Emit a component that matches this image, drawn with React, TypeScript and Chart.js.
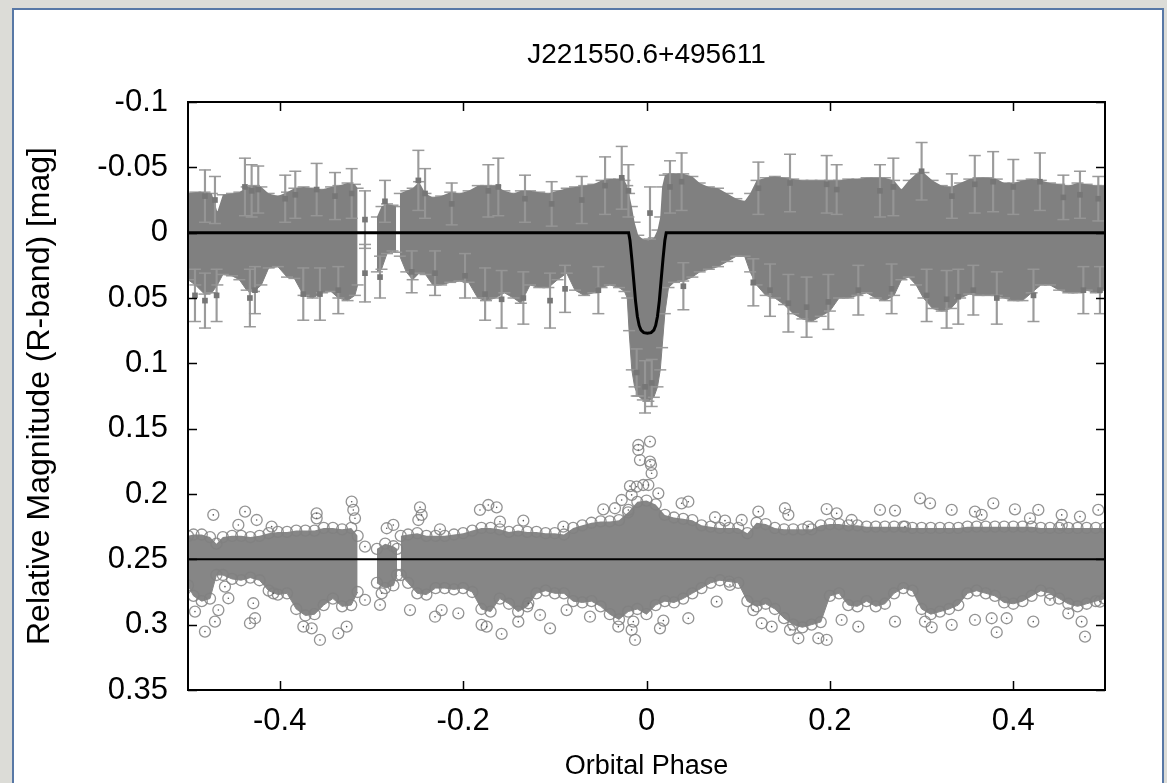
import React, { useEffect, useRef } from 'react';
import { Chart, registerables } from 'chart.js';

Chart.register(...registerables);

const TITLE = 'J221550.6+495611';
const X_TITLE = 'Orbital Phase';
const Y_TITLE = 'Relative Magnitude (R-band) [mag]';

const xTickValues = [-0.4, -0.2, 0, 0.2, 0.4];
const xTickLabels = ['-0.4', '-0.2', '0', '0.2', '0.4'];
const yTickValues = [-0.1, -0.05, 0, 0.05, 0.1, 0.15, 0.2, 0.25, 0.3, 0.35];
const yTickLabels = ['-0.1', '-0.05', '0', '0.05', '0.1', '0.15', '0.2', '0.25', '0.3', '0.35'];

// Upper light curve (with error bars): dense-core envelope
const topPhase = [
  -0.5, -0.492, -0.482, -0.474, -0.468, -0.462, -0.452, -0.444, -0.436, -0.428, -0.42, -0.412, -0.402,
  -0.392, -0.384, -0.374, -0.364, -0.354, -0.344, -0.336, -0.326, -0.318, -0.315, -0.305,
  -0.294, -0.289, -0.283, -0.277, -0.273, -0.271,
  -0.269, -0.262, -0.255, -0.248, -0.241, -0.233, -0.224, -0.214, -0.204, -0.194, -0.184, -0.175,
  -0.165, -0.155, -0.145, -0.137, -0.127, -0.117, -0.107, -0.097, -0.087, -0.078, -0.068, -0.058,
  -0.049, -0.04, -0.03, -0.024, -0.021, -0.019, -0.016, -0.013, -0.009, -0.004, 0.002, 0.008, 0.012,
  0.015, 0.017, 0.02, 0.024, 0.03, 0.04, 0.05, 0.058, 0.068, 0.078, 0.088, 0.098, 0.107, 0.113, 0.12,
  0.13, 0.14, 0.15, 0.16, 0.17, 0.18, 0.19, 0.2, 0.21, 0.22, 0.23, 0.24, 0.25, 0.26, 0.27, 0.278,
  0.286, 0.294, 0.302, 0.312, 0.322, 0.332, 0.342, 0.352, 0.362, 0.372, 0.382, 0.39, 0.4, 0.41, 0.42,
  0.43, 0.44, 0.45, 0.46, 0.47, 0.48, 0.49, 0.5,
];
const topUpper = [
  -0.03, -0.031, -0.031, -0.03, -0.016, -0.029, -0.03, -0.031, -0.035, -0.036, -0.035, -0.03, -0.028,
  -0.031, -0.034, -0.035, -0.034, -0.033, -0.035, -0.036, -0.038, -0.037, -0.034, null,
  -0.012, -0.02, -0.022, -0.021, -0.02, null,
  -0.03, -0.032, -0.034, -0.039, -0.03, -0.027, -0.028, -0.031, -0.03, -0.032, -0.036, -0.036,
  -0.036, -0.032, -0.03, -0.032, -0.032, -0.031, -0.03, -0.032, -0.034, -0.035, -0.036, -0.037,
  -0.04, -0.041, -0.041, -0.04, -0.036, -0.03, -0.02, -0.008, 0.002, 0.005, 0.006, 0.004, -0.002,
  -0.012, -0.035, -0.044, -0.045, -0.045, -0.045, -0.043, -0.038, -0.035, -0.034, -0.03, -0.026, -0.024, -0.03, -0.04,
  -0.042, -0.043, -0.042, -0.041, -0.04, -0.04, -0.04, -0.04, -0.04, -0.041, -0.041, -0.042, -0.042, -0.042, -0.04, -0.033,
  -0.04, -0.045, -0.046, -0.04, -0.036, -0.035, -0.038, -0.041, -0.042, -0.042, -0.041, -0.038, -0.038, -0.04, -0.041,
  -0.04, -0.038, -0.037, -0.036, -0.038, -0.037, -0.036, -0.036,
];
const topLower = [
  0.036, 0.04, 0.047, 0.046, 0.04, 0.032, 0.033, 0.036, 0.044, 0.045, 0.04, 0.027, 0.026,
  0.034, 0.035, 0.048, 0.05, 0.046, 0.045, 0.05, 0.052, 0.048, 0.04, null,
  0.03, 0.028, 0.016, 0.014, 0.015, null,
  0.018, 0.03, 0.036, 0.031, 0.032, 0.04, 0.04, 0.038, 0.037, 0.038, 0.05, 0.052,
  0.05, 0.046, 0.05, 0.054, 0.04, 0.042, 0.042, 0.036, 0.031, 0.044, 0.048, 0.046,
  0.042, 0.04, 0.042, 0.045, 0.05, 0.075, 0.105, 0.118, 0.125, 0.128, 0.129, 0.126, 0.118,
  0.105, 0.088, 0.062, 0.042, 0.038, 0.037, 0.034, 0.03, 0.028, 0.026, 0.022, 0.018, 0.018, 0.03, 0.04,
  0.048, 0.05, 0.055, 0.062, 0.066, 0.068, 0.064, 0.06, 0.05, 0.05, 0.048, 0.046, 0.05, 0.052, 0.048, 0.036,
  0.034, 0.04, 0.05, 0.058, 0.06, 0.058, 0.05, 0.047, 0.048, 0.048, 0.048, 0.05, 0.052, 0.052, 0.046,
  0.04, 0.04, 0.044, 0.046, 0.046, 0.044, 0.046, 0.044,
];

// Individual error-bar points standing out of the upper cloud
const ebPhase = [
  -0.4815, -0.4706, -0.4379, -0.4306, -0.4234, -0.394, -0.383, -0.3597, -0.3397, -0.3215, -0.307, -0.307,
  -0.2852, -0.2906, -0.2488, -0.2415, -0.2124, -0.1725, -0.1616, -0.1325, -0.1034, -0.0706, -0.0452, -0.027,
  -0.0197, 0.0038, 0.0256, 0.0383, 0.122, 0.1565, 0.1965, 0.2074, 0.2546, 0.2692, 0.3, 0.333, 0.358, 0.378,
  0.4, 0.429, 0.4546, 0.4727, 0.4927,
  -0.4924, -0.4815, -0.4688, -0.4325, -0.427, -0.3743, -0.3561, -0.3361, -0.256, -0.2306, -0.1979, -0.176,
  -0.158, -0.1343, -0.1052, -0.0888, -0.0525, -0.0107, -0.0016, 0.0057, 0.0402, 0.1165, 0.1347, 0.1547,
  0.1746, 0.1983, 0.231, 0.2673, 0.3055, 0.3273, 0.34, 0.3564, 0.382, 0.422, 0.4764, 0.4945,
];
const ebMag = [
  -0.028, -0.025, -0.035, -0.032, -0.033, -0.026, -0.029, -0.033, -0.028, -0.03, -0.01, 0.031,
  -0.024, 0.034, -0.04, -0.03, -0.022, -0.032, -0.035, -0.026, -0.022, -0.025, -0.036, -0.042,
  -0.032, -0.015, -0.035, -0.039, -0.034, -0.038, -0.037, -0.033, -0.032, -0.035, -0.047, -0.028, -0.037, -0.039,
  -0.035, -0.039, -0.027, -0.029, -0.026,
  0.048, 0.052, 0.048, 0.05, 0.044, 0.047, 0.047, 0.044, 0.03, 0.031, 0.033, 0.047,
  0.051, 0.05, 0.052, 0.043, 0.044, 0.107, 0.118, 0.115, 0.041, 0.038, 0.044, 0.054,
  0.057, 0.053, 0.044, 0.043, 0.048, 0.051, 0.049, 0.044, 0.05, 0.048, 0.044, 0.044,
];
const ebErr = [
  0.02, 0.018, 0.022, 0.02, 0.018, 0.018, 0.018, 0.02, 0.018, 0.019, 0.022, 0.022,
  0.016, 0.016, 0.023, 0.019, 0.016, 0.02, 0.022, 0.018, 0.017, 0.018, 0.022, 0.024,
  0.02, 0.02, 0.02, 0.022, 0.02, 0.022, 0.022, 0.019, 0.02, 0.022, 0.022, 0.017, 0.022, 0.023,
  0.021, 0.022, 0.017, 0.018, 0.017,
  0.02, 0.021, 0.02, 0.022, 0.018, 0.02, 0.02, 0.018, 0.016, 0.017, 0.017, 0.02,
  0.022, 0.02, 0.021, 0.018, 0.018, 0.018, 0.02, 0.018, 0.018, 0.018, 0.02, 0.022,
  0.023, 0.021, 0.019, 0.019, 0.02, 0.022, 0.021, 0.019, 0.02, 0.02, 0.018, 0.018,
];

// Model (fit) curve of the upper light curve
const modelPhase = [
  -0.5, -0.0195, -0.018, -0.016, -0.014, -0.012, -0.01, -0.008, -0.006, -0.003, 0.001, 0.005, 0.008,
  0.01, 0.012, 0.014, 0.016, 0.018, 0.02, 0.0215, 0.5,
];
const modelMag = [
  0, 0, 0.006, 0.02, 0.036, 0.052, 0.064, 0.071, 0.0745, 0.0765, 0.077, 0.0765, 0.0745,
  0.071, 0.064, 0.052, 0.036, 0.02, 0.006, 0, 0,
];

// Lower (offset) light curve: open circles, dense-core envelope
const botPhase = [
  -0.5, -0.494, -0.485, -0.476, -0.469, -0.462, -0.452, -0.442, -0.432, -0.422, -0.412, -0.402, -0.392,
  -0.382, -0.372, -0.362, -0.352, -0.342, -0.332, -0.322, -0.315, -0.305,
  -0.294, -0.285, -0.276, -0.272, -0.27,
  -0.268, -0.26, -0.25, -0.24, -0.23, -0.22, -0.21, -0.2, -0.19, -0.18, -0.17, -0.16, -0.15, -0.14,
  -0.13, -0.12, -0.11, -0.1, -0.09, -0.08, -0.07, -0.06, -0.05, -0.04, -0.03, -0.02, -0.01, 0,
  0.01, 0.02, 0.03, 0.04, 0.05, 0.06, 0.07, 0.08, 0.09, 0.1, 0.11, 0.12, 0.13, 0.14, 0.15, 0.16,
  0.17, 0.18, 0.19, 0.2, 0.21, 0.22, 0.23, 0.24, 0.25, 0.26, 0.27, 0.28, 0.29, 0.3, 0.31, 0.32,
  0.33, 0.34, 0.35, 0.36, 0.37, 0.38, 0.39, 0.4, 0.41, 0.42, 0.43, 0.44, 0.45, 0.46, 0.47, 0.48,
  0.49, 0.5,
];
const botUpper = [
  0.232, 0.231, 0.231, 0.233, 0.238, 0.233, 0.232, 0.232, 0.233, 0.232, 0.23, 0.229, 0.229,
  0.228, 0.228, 0.228, 0.226, 0.226, 0.227, 0.226, 0.232, null,
  0.242, 0.238, 0.24, 0.242, null,
  0.232, 0.231, 0.23, 0.232, 0.232, 0.232, 0.231, 0.23, 0.228, 0.226, 0.226, 0.227, 0.229, 0.228,
  0.229, 0.229, 0.23, 0.23, 0.231, 0.226, 0.224, 0.222, 0.221, 0.221, 0.22, 0.214, 0.206, 0.205,
  0.208, 0.216, 0.218, 0.219, 0.22, 0.224, 0.225, 0.226, 0.226, 0.226, 0.23, 0.222, 0.223, 0.226, 0.227, 0.227,
  0.227, 0.227, 0.224, 0.223, 0.223, 0.224, 0.224, 0.225, 0.225, 0.225, 0.225, 0.225, 0.226, 0.226, 0.226, 0.226,
  0.226, 0.226, 0.225, 0.225, 0.225, 0.225, 0.225, 0.225, 0.225, 0.225, 0.226, 0.226, 0.226, 0.226, 0.226, 0.226,
  0.226, 0.226,
];
const botLower = [
  0.27, 0.278, 0.282, 0.28, 0.262, 0.262, 0.265, 0.266, 0.264, 0.266, 0.274, 0.277, 0.276,
  0.288, 0.293, 0.292, 0.285, 0.28, 0.286, 0.285, 0.275, null,
  0.268, 0.272, 0.27, 0.262, null,
  0.262, 0.268, 0.276, 0.277, 0.272, 0.272, 0.273, 0.272, 0.275, 0.288, 0.29, 0.28, 0.284, 0.29,
  0.286, 0.276, 0.274, 0.276, 0.276, 0.282, 0.283, 0.282, 0.286, 0.292, 0.296, 0.29, 0.288, 0.292,
  0.285, 0.282, 0.283, 0.28, 0.276, 0.272, 0.268, 0.266, 0.267, 0.268, 0.282, 0.286, 0.284, 0.288, 0.295, 0.3,
  0.302, 0.3, 0.298, 0.278, 0.276, 0.285, 0.286, 0.282, 0.286, 0.284, 0.276, 0.272, 0.274, 0.288, 0.292, 0.29,
  0.288, 0.285, 0.276, 0.274, 0.276, 0.278, 0.283, 0.284, 0.282, 0.278, 0.274, 0.276, 0.28, 0.284, 0.286, 0.284,
  0.282, 0.28,
];

// Individual circles standing out of the lower cloud
const circPhase = [
  -0.4724, -0.4378, -0.4451, -0.4251, -0.4088, -0.3597, -0.3597, -0.3215, -0.3197, -0.3179, -0.307, -0.2833,
  -0.2761, -0.247, -0.2452, -0.2488, -0.2252, -0.1816, -0.1725, -0.1634, -0.1598, -0.1343, -0.0907, -0.0471,
  -0.0344, -0.0271, -0.0162, -0.0107, -0.0089, -0.0089, -0.0071, -0.0198,
  -0.4924, -0.4815, -0.4706, -0.4669, -0.4597, -0.456, -0.4324, -0.4269, -0.4288, -0.4069, -0.3742, -0.3651,
  -0.3561, -0.3361, -0.327, -0.307, -0.2906, -0.2888, -0.2579, -0.2306, -0.2234, -0.2052, -0.1798, -0.1743,
  -0.158, -0.1398, -0.1289, -0.1161, -0.1052, -0.0871, -0.0616, -0.0307, -0.0144, -0.0125, -0.0162,
  0.0038, 0.0038, 0.0049, 0.0056, 0.002, 0.0129, 0.0456, 0.0383, 0.0747, 0.0856, 0.1038, 0.122, 0.151,
  0.1547, 0.1765, 0.1965, 0.2074, 0.2237, 0.2546, 0.271, 0.2819, 0.2983, 0.3092, 0.3328, 0.3582, 0.3655,
  0.3782, 0.4018, 0.4273, 0.4182, 0.4528, 0.4727, 0.4927, 0.4528,
  0.0147, 0.0184, 0.0456, 0.0765, 0.091, 0.1165, 0.1256, 0.1365, 0.1565, 0.1656, 0.1874, 0.1965, 0.2128,
  0.231, 0.271, 0.3037, 0.311, 0.3328, 0.3582, 0.3764, 0.3819, 0.3928, 0.4218, 0.44, 0.46, 0.4745,
  0.4782, 0.4945, -0.018, -0.0035,
];
const circMag = [
  0.216, 0.2135, 0.2237, 0.2199, 0.225, 0.2148, 0.2186, 0.2059, 0.2122, 0.2186, 0.2403, 0.2262,
  0.2237, 0.2102, 0.216, 0.2199, 0.227, 0.2122, 0.2084, 0.2102, 0.2212, 0.2204, 0.225, 0.2117,
  0.2109, 0.2046, 0.2007, 0.1944, 0.1625, 0.1663, 0.174, 0.2122,
  0.29, 0.3053, 0.2977, 0.2888, 0.2709, 0.2798, 0.2989, 0.2951, 0.2836, 0.276, 0.3015, 0.3028,
  0.3117, 0.3066, 0.3015, 0.2811, 0.2849, 0.276, 0.2888, 0.2939, 0.2888, 0.2913, 0.3002, 0.3015,
  0.3071, 0.2977, 0.2836, 0.2926, 0.3028, 0.2888, 0.2939, 0.3015, 0.2977, 0.3117, 0.304,
  0.1599, 0.1752, 0.1778, 0.1841, 0.1931, 0.1995, 0.2059, 0.2071, 0.2178, 0.2204, 0.2199, 0.2135, 0.2109,
  0.216, 0.225, 0.2115, 0.2148, 0.2199, 0.2122, 0.2127, 0.225, 0.2033, 0.2071, 0.2122, 0.2135, 0.216,
  0.2071, 0.2117, 0.2122, 0.2186, 0.216, 0.2173, 0.2122, 0.2237,
  0.3028, 0.2969, 0.2951, 0.2824, 0.2696, 0.2888, 0.2989, 0.3015, 0.304, 0.3104, 0.3104, 0.3117, 0.2964,
  0.3015, 0.2977, 0.2977, 0.302, 0.3002, 0.2964, 0.2951, 0.3058, 0.2951, 0.2977, 0.2811, 0.2913, 0.2977,
  0.3092, 0.2824, 0.194, 0.1931,
];

// Reference line of the lower curve
const refPhase = [-0.5, 0.5];
const refMag = [0.25, 0.25];

const GRAY = 'rgb(128,128,128)';
const BAR_GRAY = 'rgba(150,150,150,0.95)';
const CIRCLE_GRAY = 'rgba(128,128,128,0.85)';

const pts = (xs: number[], ys: (number | null)[]) => xs.map((x, i) => ({ x, y: ys[i] }));

const framePlugin = {
  id: 'frameTicks',
  afterDatasetsDraw(chart: any) {
    const { ctx, chartArea: a, scales } = chart;
    ctx.save();
    ctx.strokeStyle = '#000';
    ctx.lineWidth = 2;
    ctx.strokeRect(a.left, a.top, a.right - a.left, a.bottom - a.top);
    ctx.lineWidth = 1.5;
    ctx.beginPath();
    const tl = 9;
    for (const v of xTickValues) {
      const px = Math.round(scales.x.getPixelForValue(v)) + 0.5;
      ctx.moveTo(px, a.bottom);
      ctx.lineTo(px, a.bottom - tl);
      ctx.moveTo(px, a.top);
      ctx.lineTo(px, a.top + tl);
    }
    for (const v of yTickValues) {
      const py = Math.round(scales.y.getPixelForValue(v)) + 0.5;
      ctx.moveTo(a.left, py);
      ctx.lineTo(a.left + tl, py);
      ctx.moveTo(a.right, py);
      ctx.lineTo(a.right - tl, py);
    }
    ctx.stroke();
    ctx.restore();
  },
};

export default function App() {
  const ref = useRef<HTMLCanvasElement | null>(null);

  useEffect(() => {
    document.body.style.margin = '0';
    document.body.style.overflow = 'hidden';
    const canvas = ref.current;
    if (!canvas) return;
    Chart.defaults.font.family = '"Liberation Sans", Arial, Helvetica, sans-serif';
    Chart.defaults.color = '#000';

    const ebRanges = ebPhase.map((x, i) => ({ x, y: [ebMag[i] - ebErr[i], ebMag[i] + ebErr[i]] }));
    const ebCaps = [
      ...ebPhase.map((x, i) => ({ x, y: ebMag[i] - ebErr[i] })),
      ...ebPhase.map((x, i) => ({ x, y: ebMag[i] + ebErr[i] })),
    ];
    const edgeCircles = [...pts(botPhase, botUpper), ...pts(botPhase, botLower)].filter((p) => p.y !== null);

    const chart = new Chart(canvas, {
      type: 'line',
      data: {
        datasets: [
          {
            type: 'line', label: 'model', data: pts(modelPhase, modelMag), borderColor: '#000',
            borderWidth: 3, pointRadius: 0, fill: false, order: 0, tension: 0,
          },
          {
            type: 'line', label: 'ref', data: pts(refPhase, refMag), borderColor: '#000',
            borderWidth: 2, pointRadius: 0, fill: false, order: 1,
          },
          {
            type: 'line', label: 'squares', data: pts(ebPhase, ebMag), showLine: false,
            pointStyle: 'rect', pointRadius: 4, backgroundColor: 'rgb(118,118,118)', borderWidth: 0, order: 2,
          },
          {
            type: 'line', label: 'caps', data: ebCaps, showLine: false, pointStyle: 'line',
            pointRadius: 6, borderColor: BAR_GRAY, borderWidth: 1.5, order: 3,
          },
          {
            type: 'bar', label: 'errbars', data: ebRanges as any, backgroundColor: BAR_GRAY,
            barThickness: 1.5, grouped: false, order: 4,
          } as any,
          {
            type: 'line', label: 'circleDots', data: pts(circPhase, circMag), showLine: false,
            pointStyle: 'circle', pointRadius: 0.8, backgroundColor: '#555', borderWidth: 0, order: 5,
          },
          {
            type: 'line', label: 'circles', data: pts(circPhase, circMag), showLine: false,
            pointStyle: 'circle', pointRadius: 5.5, backgroundColor: 'rgba(0,0,0,0)',
            borderColor: CIRCLE_GRAY, borderWidth: 1.3, order: 6,
          },
          {
            type: 'line', label: 'edgeCircles', data: edgeCircles, showLine: false,
            pointStyle: 'circle', pointRadius: 5.5, backgroundColor: 'rgba(0,0,0,0)',
            borderColor: CIRCLE_GRAY, borderWidth: 1.3, order: 7,
          },
          {
            type: 'line', label: 'topUpper', data: pts(topPhase, topUpper), borderWidth: 0,
            borderColor: GRAY, fill: false, spanGaps: false, order: 9,
            pointStyle: 'line', pointRadius: 6, pointBorderColor: BAR_GRAY, pointBorderWidth: 1.5,
          },
          {
            type: 'line', label: 'topLower', data: pts(topPhase, topLower), borderWidth: 1,
            borderColor: GRAY, fill: '-1', backgroundColor: GRAY, spanGaps: false, order: 8,
            pointStyle: 'line', pointRadius: 6, pointBorderColor: BAR_GRAY, pointBorderWidth: 1.5,
          },
          {
            type: 'line', label: 'botUpper', data: pts(botPhase, botUpper), borderWidth: 0,
            borderColor: GRAY, pointRadius: 0, fill: false, spanGaps: false, order: 11,
          },
          {
            type: 'line', label: 'botLower', data: pts(botPhase, botLower), borderWidth: 1,
            borderColor: 'rgb(134,134,134)', pointRadius: 0, fill: '-1', backgroundColor: 'rgb(134,134,134)',
            spanGaps: false, order: 10,
          },
        ] as any,
      },
      options: {
        animation: false,
        responsive: false,
        devicePixelRatio: 1,
        layout: { padding: { left: 0, right: 62, top: 0, bottom: 0 } },
        plugins: {
          legend: { display: false },
          tooltip: { enabled: false },
          title: {
            display: true, text: TITLE, fullSize: false, color: '#000',
            font: { size: 28, weight: 'normal' }, padding: { top: 38, bottom: 30.4 },
          },
        },
        scales: {
          x: {
            type: 'linear', min: -0.5, max: 0.5, offset: false,
            grid: { display: false, drawTicks: false }, border: { display: false },
            afterBuildTicks: (s: any) => { s.ticks = xTickValues.map((v) => ({ value: v })); },
            afterFit: (s: any) => { s.height = 93; },
            ticks: {
              autoSkip: false, maxRotation: 0, padding: 13, color: '#000', font: { size: 31 },
              callback: (v: any) => {
                const i = xTickValues.findIndex((t) => Math.abs(t - Number(v)) < 1e-9);
                return i >= 0 ? xTickLabels[i] : '';
              },
            },
            title: { display: true, text: X_TITLE, color: '#000', font: { size: 27 }, padding: { top: 0, bottom: 0 } },
          },
          y: {
            type: 'linear', min: -0.1, max: 0.35, reverse: true,
            grid: { display: false, drawTicks: false }, border: { display: false },
            afterBuildTicks: (s: any) => { s.ticks = yTickValues.map((v) => ({ value: v })); },
            afterFit: (s: any) => { s.width = 188; },
            ticks: {
              autoSkip: false, padding: 20, color: '#000', font: { size: 31 },
              callback: (v: any) => {
                const i = yTickValues.findIndex((t) => Math.abs(t - Number(v)) < 1e-9);
                return i >= 0 ? yTickLabels[i] : '';
              },
            },
            title: { display: true, text: Y_TITLE, color: '#000', font: { size: 32 }, padding: { top: 21, bottom: 0 } },
          },
        },
      } as any,
      plugins: [framePlugin],
    });
    return () => chart.destroy();
  }, []);

  return (
    <div style={{ position: 'relative', width: 1167, height: 783, overflow: 'hidden', background: '#dcdcd7' }}>
      <div
        style={{
          position: 'absolute', left: 12, top: 8, width: 1148, height: 800,
          background: '#fff', border: '2px solid #5878a6',
        }}
      />
      <canvas ref={ref} width={1167} height={783} style={{ position: 'absolute', left: 0, top: 0 }} />
    </div>
  );
}
